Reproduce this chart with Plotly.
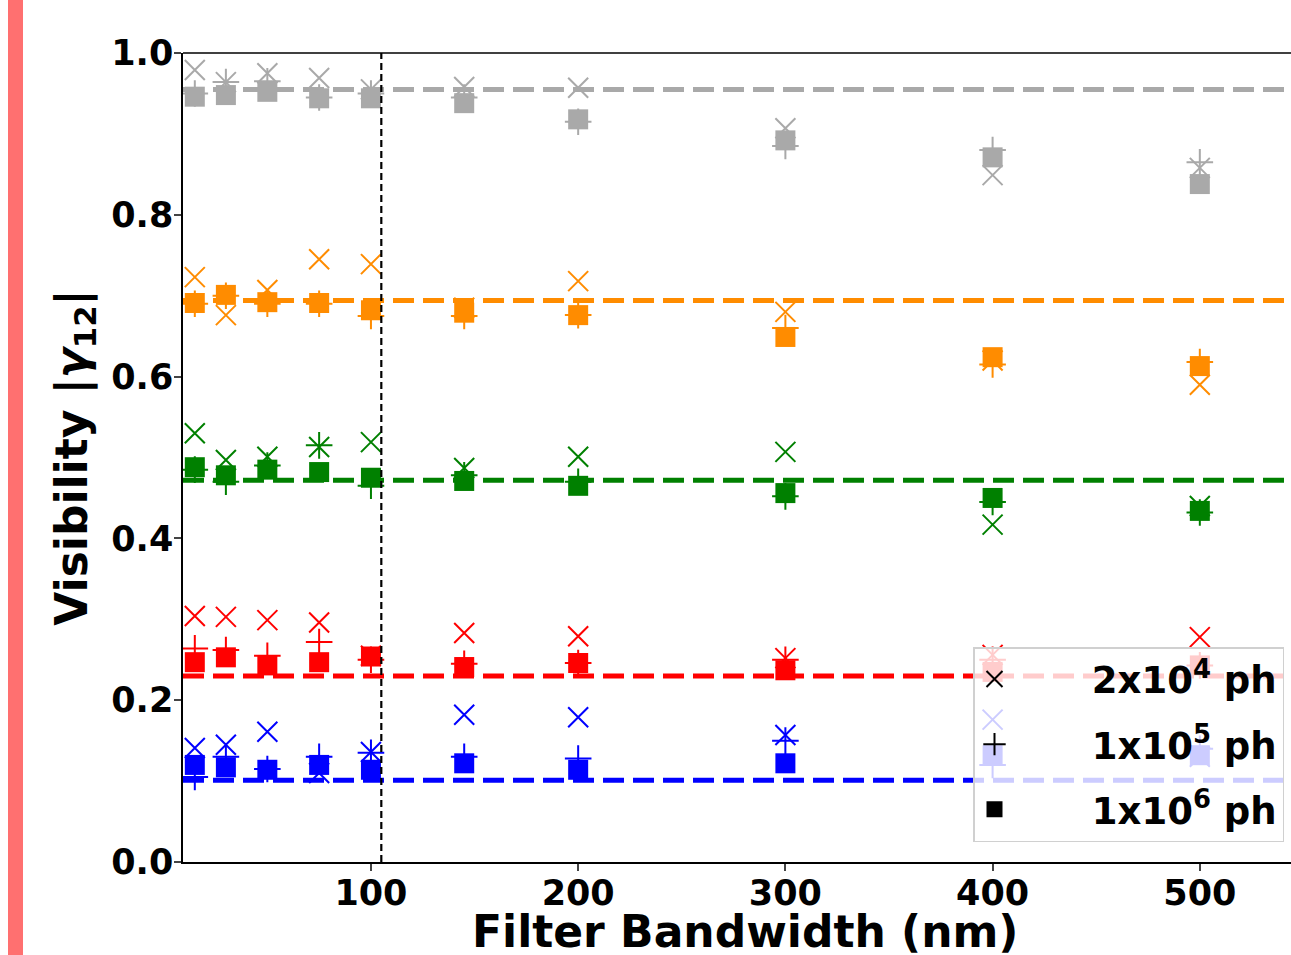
import plotly.graph_objects as go

bandwidth = [15, 30, 50, 75, 100, 145, 200, 300, 400, 500]

colors = ["#A9A9A9", "#FF8C00", "#008000", "#FF0000", "#0000FF"]
fit_levels = [0.955, 0.694, 0.472, 0.230, 0.101]

# 2x10^4 ph (x markers)
vis_2e4 = [
    [0.979, 0.964, 0.975, 0.969, 0.955, 0.958, 0.957, 0.907, 0.849, 0.858],
    [0.723, 0.676, 0.707, 0.745, 0.739, 0.685, 0.718, 0.680, 0.620, 0.590],
    [0.530, 0.497, 0.501, 0.513, 0.519, 0.487, 0.501, 0.507, 0.417, 0.440],
    [0.304, 0.303, 0.299, 0.296, 0.255, 0.283, 0.279, 0.252, 0.256, 0.278],
    [0.141, 0.145, 0.161, 0.110, 0.136, 0.182, 0.179, 0.157, 0.176, 0.130],
]
# 1x10^5 ph (+ markers)
vis_1e5 = [
    [0.950, 0.964, 0.965, 0.945, 0.950, 0.945, 0.915, 0.885, 0.880, 0.865],
    [0.690, 0.700, 0.690, 0.690, 0.675, 0.675, 0.676, 0.660, 0.615, 0.618],
    [0.485, 0.470, 0.490, 0.515, 0.465, 0.478, 0.470, 0.452, 0.445, 0.432],
    [0.264, 0.262, 0.255, 0.272, 0.250, 0.245, 0.246, 0.250, 0.250, 0.243],
    [0.105, 0.130, 0.115, 0.130, 0.135, 0.130, 0.128, 0.150, 0.120, 0.140],
]
# 1x10^6 ph (square markers)
vis_1e6 = [
    [0.946, 0.948, 0.952, 0.944, 0.944, 0.938, 0.918, 0.892, 0.871, 0.838],
    [0.691, 0.701, 0.692, 0.691, 0.682, 0.679, 0.676, 0.649, 0.624, 0.613],
    [0.488, 0.478, 0.485, 0.482, 0.475, 0.471, 0.465, 0.456, 0.450, 0.434],
    [0.247, 0.253, 0.243, 0.247, 0.254, 0.241, 0.246, 0.237, 0.235, 0.243],
    [0.120, 0.117, 0.114, 0.120, 0.114, 0.122, 0.114, 0.122, 0.132, 0.132],
]

cutoff_bw = 105
legend_labels = ["2x10<sup>4</sup> ph", "1x10<sup>5</sup> ph", "1x10<sup>6</sup> ph"]
x_ticks = [100, 200, 300, 400, 500]
y_ticks = [0.0, 0.2, 0.4, 0.6, 0.8, 1.0]
x_title = "Filter Bandwidth (nm)"
y_title = "Visibility |<i>γ</i><sub>12</sub>|"

FONT = "DejaVu Sans"
fig = go.Figure()

for i, c in enumerate(colors):
    fig.add_trace(go.Scatter(x=bandwidth, y=vis_2e4[i], mode="markers", showlegend=False,
                             cliponaxis=False,
                             marker=dict(symbol="x-thin", size=20, line=dict(color=c, width=2))))
    fig.add_trace(go.Scatter(x=bandwidth, y=vis_1e5[i], mode="markers", showlegend=False,
                             cliponaxis=False,
                             marker=dict(symbol="cross-thin", size=19, line=dict(color=c, width=2))))
    fig.add_trace(go.Scatter(x=bandwidth, y=vis_1e6[i], mode="markers", showlegend=False,
                             cliponaxis=False,
                             marker=dict(symbol="square", size=20, color=c, line=dict(width=0))))
    fig.add_hline(y=fit_levels[i], line=dict(color=c, width=5, dash="21px,9px"))

# legend entries
leg_syms = [dict(symbol="x-thin", size=20, line=dict(color="black", width=2)),
            dict(symbol="cross-thin", size=20, line=dict(color="black", width=2)),
            dict(symbol="square", size=20, color="black", line=dict(width=0))]
for k, lab in enumerate(legend_labels):
    fig.add_trace(go.Scatter(x=[None], y=[None], mode="markers", name="      " + lab,
                             legendgroup=f"g{k}", marker=leg_syms[k]))

fig.add_vline(x=cutoff_bw, line=dict(color="black", width=2.2, dash="7px,4px"), layer="above")

# top spine
fig.add_shape(type="line", xref="paper", yref="paper", x0=0, x1=1, y0=1, y1=1,
              line=dict(color="black", width=1.5))
# pink side bar
fig.add_shape(type="rect", xref="paper", yref="paper",
              x0=(8 - 183) / 1108, x1=(23 - 183) / 1108,
              y0=(862 - 955) / 809, y1=862 / 809,
              fillcolor="#FF7070", line=dict(width=0), layer="below")

# x-axis title (placed as annotation so it can sit low, partly cut like the reference)
fig.add_annotation(text=x_title, xref="paper", yref="paper",
                   x=(744.5 - 183) / 1108, y=(862 - 904) / 809,
                   xanchor="center", yanchor="top", showarrow=False,
                   font=dict(family=FONT, size=44, weight="bold", color="black"))

fig.update_layout(
    width=1291, height=955,
    margin=dict(l=183, r=0, t=53, b=93, autoexpand=False),
    plot_bgcolor="white", paper_bgcolor="white",
    font=dict(family=FONT, color="black"),
    showlegend=True,
    legend=dict(x=(973 - 183) / 1108, y=(862 - 647) / 809, xanchor="left", yanchor="top",
                bgcolor="rgba(255,255,255,0.8)", bordercolor="#D0D0D0", borderwidth=1.5,
                font=dict(family=FONT, size=37, color="black", weight="bold"),
                tracegroupgap=14, traceorder="grouped", itemwidth=30),
)
fig.update_xaxes(range=[9.3, 544], tickvals=x_ticks, ticks="outside", ticklen=7, tickwidth=1.5,
                 showline=True, linecolor="black", linewidth=1.5, showgrid=False, zeroline=False,
                 ticklabelstandoff=-8, automargin=False,
                 tickfont=dict(family=FONT, size=35, weight="bold"))
fig.update_yaxes(range=[0, 1.0], tickvals=y_ticks, tickformat=".1f", ticks="outside", ticklen=7,
                 tickwidth=1.5, showline=True, linecolor="black", linewidth=1.5, showgrid=False,
                 zeroline=False, ticklabelstandoff=-6, automargin=False,
                 tickfont=dict(family=FONT, size=35, weight="bold"),
                 title=dict(text=y_title, standoff=10,
                            font=dict(family=FONT, size=44, weight="bold")))

fig.write_html("out.html")
